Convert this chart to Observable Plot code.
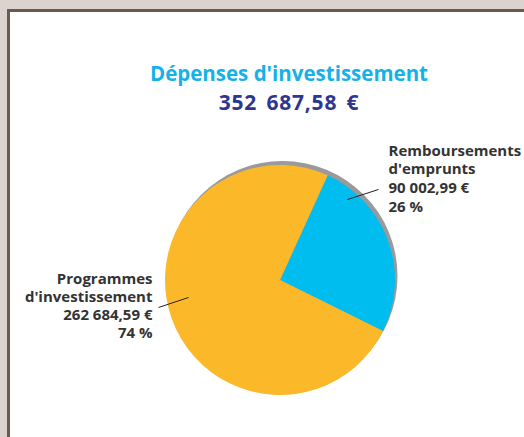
<!DOCTYPE html>
<html>
<head>
<meta charset="utf-8">
<script src="https://cdn.jsdelivr.net/npm/d3@7"></script>
<script src="https://cdn.jsdelivr.net/npm/@observablehq/plot@0.6"></script>
<style>
  html, body { margin: 0; padding: 0; width: 524px; height: 437px; overflow: hidden; background: #ddd3ce; }
  #panel { position: absolute; left: 7px; top: 9px; width: 600px; height: 500px; background: #fff;
           border-left: 3px solid #6e5a4a; border-top: 3px solid #6e5a4a; box-sizing: border-box; }
  .t { position: absolute; left: 0; width: 578px; text-align: center; font-family: "Open Sans", sans-serif;
       font-weight: 700; white-space: nowrap; line-height: 1; }
  #title { top: 63px; font-size: 20.5px; color: #16b1e8; }
  #total { top: 92px; font-size: 21px; color: #2f3690; letter-spacing: 0.8px; word-spacing: 3px; }
  #chart { position: absolute; left: 0; top: 0; }
</style>
</head>
<body>
<div id="panel"></div>
<div class="t" id="title">Dépenses d'investissement</div>
<div class="t" id="total">352 687,58 €</div>
<div id="chart"></div>
<script>
// ---- data ----
const categories = ["Remboursements d'emprunts", "Programmes d'investissement"];
const labelNames = ["Remboursements\nd'emprunts", "Programmes\nd'investissement"];
const amounts = [90002.99, 262684.59];
const amountLabels = ["90 002,99 €", "262 684,59 €"];
const percentLabels = ["26 %", "74 %"];
const colors = ["#00bdf0", "#fbb829"];

// ---- layout ----
const cx = 280, cy = 280, R = 115;
const startDeg = 24.5;
const shadow = {dx: 2.5, dy: -4, fill: "#9a9a9c"};
const labelPos = [
  {x: 388, y: 142, anchor: "start"},
  {x: 152, y: 270, anchor: "end"}
];
const leaders = [
  {x1: 347, y1: 199, x2: 378, y2: 189},
  {x1: 188, y1: 297, x2: 158, y2: 307}
];

const rows = categories.map((c, i) => ({
  category: c,
  value: amounts[i],
  text: labelNames[i] + "\n" + amountLabels[i] + "\n" + percentLabels[i],
  ...labelPos[i]
}));
const links = leaders.map((l, i) => ({...l, category: categories[i]}));

function pieMark(index, scales) {
  const color = scales && scales.color ? scales.color : d3.scaleOrdinal(categories, colors);
  const a0 = startDeg * Math.PI / 180;
  const arcs = d3.pie().sort(null).value(d => d.value).startAngle(a0).endAngle(a0 + 2 * Math.PI)(rows);
  const arc = d3.arc().innerRadius(0).outerRadius(R);
  const g = d3.create("svg:g");
  g.append("circle").attr("cx", cx + shadow.dx).attr("cy", cy + shadow.dy).attr("r", R).attr("fill", shadow.fill);
  g.append("g").attr("transform", `translate(${cx},${cy})`)
    .selectAll("path").data(arcs).join("path")
    .attr("d", arc).attr("fill", d => color(d.data.category));
  return g.node();
}

const textOpts = {x: "x", y: "y", text: "text", lineAnchor: "top", lineHeight: 1.24,
  fontSize: 15, fontWeight: 700, fontFamily: "Open Sans", fill: "#333"};

const plot = Plot.plot({
  width: 524, height: 437, margin: 0,
  x: {type: "identity", axis: null},
  y: {type: "identity", axis: null},
  color: {domain: categories, range: colors},
  style: {background: "transparent", overflow: "visible"},
  marks: [
    pieMark,
    Plot.link(links, {x1: "x1", y1: "y1", x2: "x2", y2: "y2", stroke: "#222", strokeWidth: 1}),
    Plot.text(rows.filter(d => d.anchor === "start"), {...textOpts, textAnchor: "start"}),
    Plot.text(rows.filter(d => d.anchor === "end"), {...textOpts, textAnchor: "end", lineHeight: 1.22})
  ]
});
document.getElementById("chart").appendChild(plot);
</script>
</body>
</html>
